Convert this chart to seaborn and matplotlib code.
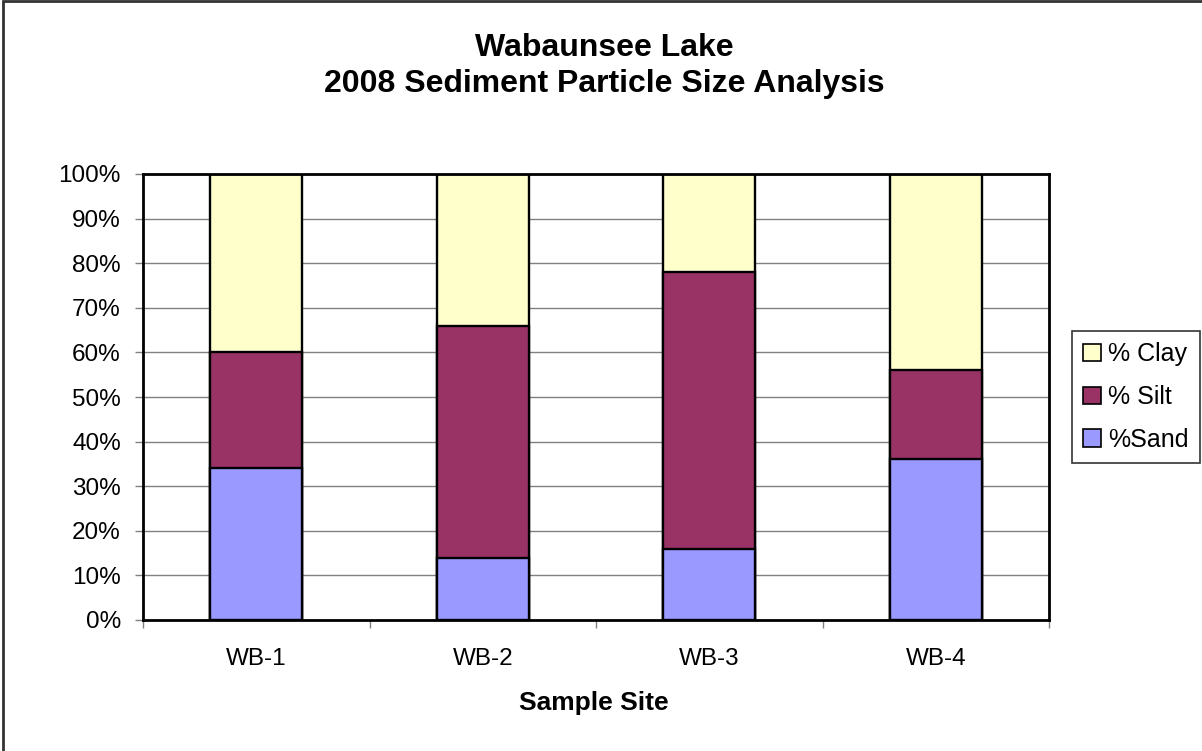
import matplotlib
matplotlib.use("Agg")
import matplotlib.pyplot as plt
import matplotlib.patches as mpatches
import numpy as np
import pandas as pd
import seaborn as sns

sites = ["WB-1", "WB-2", "WB-3", "WB-4"]
sand = [34, 14, 16, 36]
silt = [26, 52, 62, 20]
clay = [40, 34, 22, 44]

series = ["% Clay", "% Silt", "%Sand"]
colors = {"% Clay": "#FFFFCC", "% Silt": "#993366", "%Sand": "#9999FF"}

sns.set_theme(style="white")
plt.rcParams["font.family"] = ["Liberation Sans", "DejaVu Sans"]
plt.rcParams["text.color"] = "black"
plt.rcParams["xtick.labelcolor"] = "black"
plt.rcParams["ytick.labelcolor"] = "black"

df = pd.DataFrame({"site": sites, "sand": sand, "silt": silt, "clay": clay})
df["sand_top"] = df["sand"]
df["silt_top"] = df["sand"] + df["silt"]
df["clay_top"] = df["silt_top"] + df["clay"]

fig = plt.figure(figsize=(12.02, 7.51), dpi=100)
ax = fig.add_axes([143 / 1202, 1 - 620 / 751, (1049 - 143) / 1202, (620 - 174) / 751])

# stacked bars drawn as overlapping cumulative bars, tallest first
for col, name in [("clay_top", "% Clay"), ("silt_top", "% Silt"), ("sand_top", "%Sand")]:
    sns.barplot(data=df, x="site", y=col, color=colors[name], saturation=1,
                width=0.405, edgecolor="black", linewidth=1.7, ax=ax, zorder=3)

ax.set_xlim(-0.5, 3.5)
ax.set_ylim(0, 100)
ax.set_yticks(np.arange(0, 101, 10))
ax.set_yticklabels([f"{v}%" for v in range(0, 101, 10)], fontsize=17.5)
ax.yaxis.grid(True, color="#808080", linewidth=1.0, zorder=0)
ax.set_axisbelow(True)

ax.set_xticks([-0.5, 0.5, 1.5, 2.5, 3.5])
ax.set_xticklabels([])
ax.set_xticks(range(4), minor=True)
ax.set_xticklabels(sites, minor=True, fontsize=17.5)
ax.tick_params(axis="x", which="major", direction="out", length=6, width=1,
               color="#808080", bottom=True)
ax.tick_params(axis="x", which="minor", length=0, pad=20)
ax.tick_params(axis="y", direction="out", length=6, width=1, color="#808080",
               left=True, pad=10)
ax.set_xlabel("")
ax.set_ylabel("")

for side in ax.spines.values():
    side.set_color("black")
    side.set_linewidth(2)
    side.set_zorder(5)

handles = [mpatches.Patch(facecolor=colors[s], edgecolor="black", linewidth=1.2, label=s)
           for s in series]
leg = fig.legend(handles=handles, loc="center left", bbox_to_anchor=(1072 / 1202, 1 - 397 / 751),
                 fontsize=18, frameon=True, fancybox=False, edgecolor="black",
                 handlelength=0.7, handleheight=0.7, handletextpad=0.3,
                 labelspacing=0.75, borderpad=0.45, borderaxespad=0)
leg.get_frame().set_linewidth(1.2)

fig.text(0.503, 1 - 66 / 751, "Wabaunsee Lake\n2008 Sediment Particle Size Analysis",
         ha="center", va="center", fontsize=23, fontweight="bold", linespacing=1.25)
fig.text(594 / 1202, 1 - 703 / 751, "Sample Site", ha="center", va="center",
         fontsize=19, fontweight="bold")

fig.patches.append(mpatches.Rectangle((3 / 1202, -0.02), 1.5, 1.02 - 1.5 / 751,
                                      transform=fig.transFigure, fill=False,
                                      edgecolor="#333333", linewidth=2))

fig.savefig("out.png", dpi=100, facecolor="white")
